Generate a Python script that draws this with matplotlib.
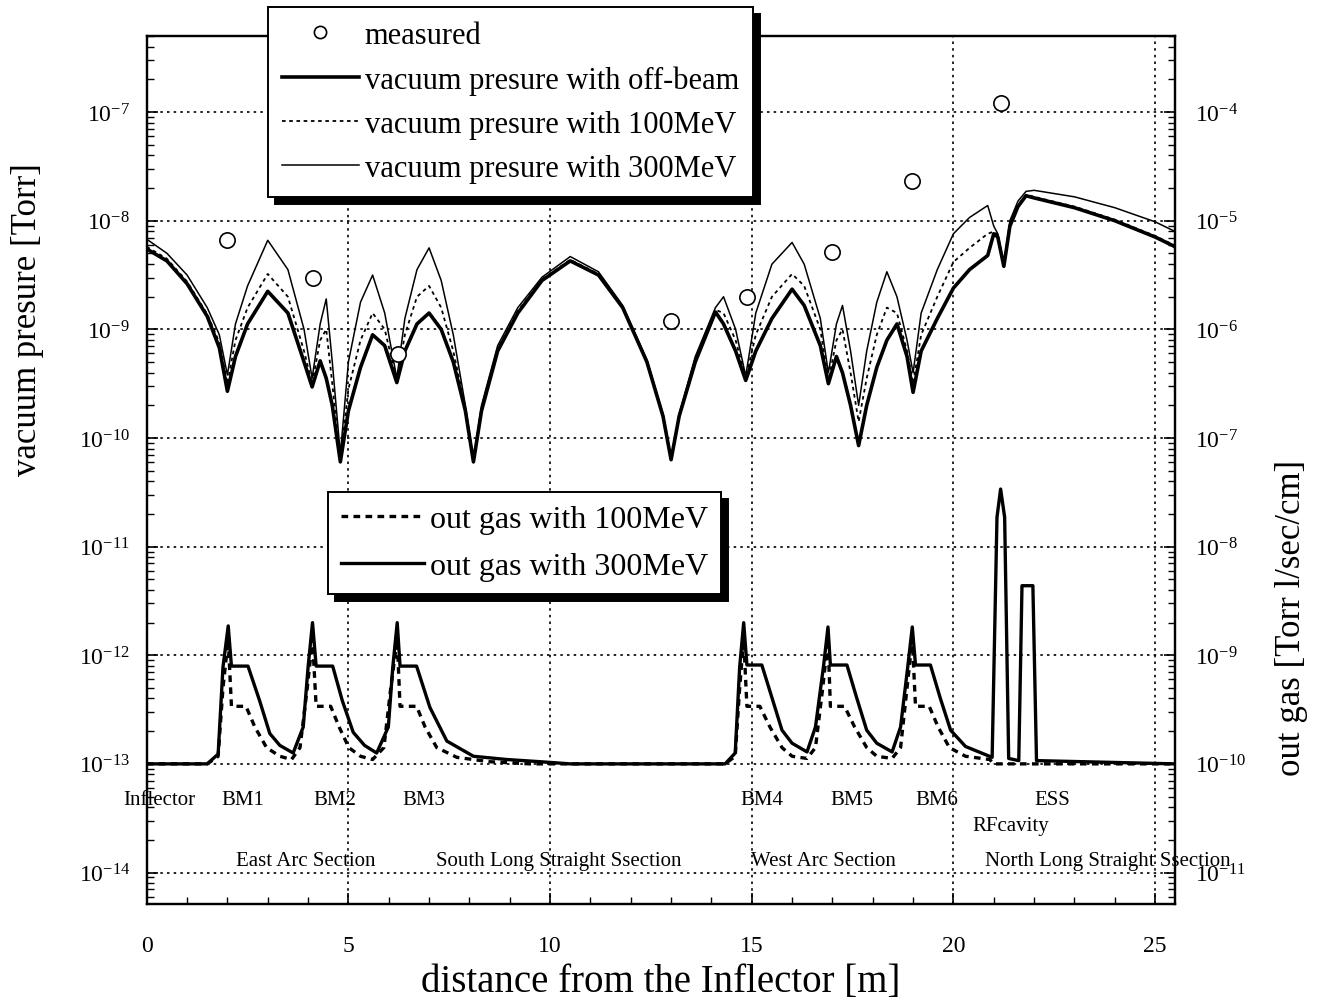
import numpy as np
import matplotlib
matplotlib.use("Agg")
import matplotlib.pyplot as plt
from matplotlib.ticker import LogLocator, MultipleLocator, NullFormatter

plt.rcParams.update({"font.family": ["Liberation Serif", "DejaVu Serif"],
                     "mathtext.fontset": "stix"})

# ---- vacuum pressure (left axis), log10 exponents ----
pos = [0, 0.5, 1.0, 1.5, 1.8, 2.0, 2.2, 2.5, 3.0, 3.5, 3.9, 4.1, 4.3, 4.45, 4.6,
       4.8, 5.0, 5.3, 5.6, 5.9, 6.2, 6.4, 6.7, 7.0, 7.3, 7.6, 7.9, 8.1, 8.3, 8.7,
       9.2, 9.8, 10.5, 11.2, 11.8, 12.4, 12.8, 13.0, 13.2, 13.6, 14.1, 14.3, 14.6,
       14.85, 15.1, 15.5, 16.0, 16.3, 16.7, 16.9, 17.1, 17.25, 17.45, 17.65, 17.85,
       18.1, 18.35, 18.6, 18.85, 19.0, 19.2, 19.6, 20.0, 20.4, 20.85, 21.0, 21.1,
       21.25, 21.4, 21.6, 21.8, 22.0, 23.0, 24.0, 25.0, 25.5]
p_off_exp = [-8.26, -8.37, -8.58, -8.88, -9.17, -9.57, -9.25, -8.95, -8.65, -8.85,
             -9.3, -9.53, -9.29, -9.45, -9.7, -10.22, -9.75, -9.35, -9.05, -9.15,
             -9.49, -9.2, -8.95, -8.85, -9.0, -9.3, -9.75, -10.22, -9.75, -9.2,
             -8.85, -8.55, -8.37, -8.5, -8.8, -9.3, -9.8, -10.2, -9.8, -9.3,
             -8.84, -8.95, -9.2, -9.47, -9.2, -8.9, -8.63, -8.78, -9.15, -9.5,
             -9.25, -9.4, -9.7, -10.07, -9.7, -9.35, -9.1, -8.95, -9.25, -9.58,
             -9.2, -8.9, -8.62, -8.45, -8.32, -8.12, -8.15, -8.42, -8.05, -7.87,
             -7.77, -7.79, -7.88, -8.0, -8.15, -8.24]
p_100_exp = [-8.24, -8.35, -8.56, -8.86, -9.12, -9.5, -9.1, -8.8, -8.49, -8.7,
             -9.2, -9.5, -9.1, -9.0, -9.5, -10.2, -9.55, -9.1, -8.85, -9.0,
             -9.47, -9.05, -8.7, -8.6, -8.8, -9.2, -9.72, -10.22, -9.73, -9.18,
             -8.83, -8.54, -8.36, -8.49, -8.79, -9.29, -9.79, -10.2, -9.79, -9.28,
             -8.82, -8.85, -9.1, -9.45, -9.05, -8.7, -8.49, -8.6, -9.0, -9.47,
             -9.1, -9.0, -9.4, -9.85, -9.45, -9.05, -8.8, -8.85, -9.2, -9.5,
             -9.05, -8.7, -8.38, -8.25, -8.12, -8.1, -8.13, -8.42, -8.04, -7.86,
             -7.76, -7.78, -7.87, -7.99, -8.14, -8.23]
p_300_exp = [-8.17, -8.3, -8.5, -8.8, -9.05, -9.42, -8.95, -8.6, -8.18, -8.45,
             -9.0, -9.45, -8.95, -8.72, -9.3, -10.15, -9.3, -8.75, -8.5, -8.85,
             -9.45, -8.9, -8.45, -8.25, -8.55, -9.05, -9.7, -10.2, -9.7, -9.15,
             -8.8, -8.52, -8.33, -8.47, -8.78, -9.28, -9.78, -10.2, -9.78, -9.25,
             -8.8, -8.7, -9.0, -9.43, -8.85, -8.4, -8.2, -8.4, -8.9, -9.4,
             -8.95, -8.78, -9.2, -9.7, -9.2, -8.75, -8.47, -8.7, -9.1, -9.4,
             -8.85, -8.45, -8.12, -7.97, -7.86, -8.05, -8.12, -8.4, -8.0, -7.82,
             -7.73, -7.72, -7.78, -7.88, -8.01, -8.1]

meas_pos = [2.0, 4.12, 6.23, 13.0, 14.89, 17.0, 18.98, 21.17]
meas_p = [6.6e-9, 3.0e-9, 5.9e-10, 1.2e-9, 2.0e-9, 5.2e-9, 2.3e-8, 1.2e-7]

# ---- out gas (right axis, Torr l/sec/cm), log10 exponents ----
gas300_pos = [0, 1.5, 1.77, 1.89, 2.02, 2.10, 2.51, 2.8, 3.05, 3.3, 3.63, 3.88, 4.0,
              4.11, 4.2, 4.61, 4.85, 5.12, 5.4, 5.70, 5.99, 6.1, 6.21, 6.28, 6.69,
              7.02, 7.44, 8.1, 8.93, 9.75, 10.5, 14.34, 14.59, 14.7, 14.8, 14.88,
              15.25, 15.5, 15.75, 16.0, 16.37, 16.58, 16.78, 16.89, 16.95, 17.36,
              17.6, 17.85, 18.1, 18.48, 18.69, 18.87, 18.98, 19.06, 19.43, 19.67,
              19.93, 20.3, 20.96, 21.08, 21.17, 21.27, 21.37, 21.62, 21.70, 21.97,
              22.06, 25.5]
gas300_exp = [-10.0, -10.0, -9.91, -9.11, -8.73, -9.10, -9.10, -9.42, -9.72, -9.83,
              -9.90, -9.66, -9.11, -8.70, -9.10, -9.10, -9.42, -9.71, -9.83, -9.90,
              -9.66, -9.11, -8.70, -9.10, -9.10, -9.48, -9.79, -9.93, -9.96, -9.98,
              -10.0, -10.0, -9.9, -9.11, -8.70, -9.09, -9.09, -9.39, -9.69, -9.81,
              -9.89, -9.66, -9.10, -8.74, -9.09, -9.09, -9.39, -9.69, -9.81, -9.89,
              -9.66, -9.10, -8.74, -9.09, -9.09, -9.39, -9.69, -9.84, -9.94, -7.73,
              -7.47, -7.73, -9.95, -9.97, -8.36, -8.36, -9.97, -10.0]
gas100_pos = [0, 1.5, 1.77, 1.89, 2.02, 2.10, 2.46, 2.68, 2.97, 3.3, 3.59, 3.8, 3.98,
              4.11, 4.2, 4.56, 4.77, 5.01, 5.3, 5.6, 5.88, 6.05, 6.21, 6.28, 6.69,
              6.9, 7.19, 7.69, 8.5, 9.5, 14.34, 14.59, 14.7, 14.8, 14.88, 15.2,
              15.45, 15.75, 16.0, 16.37, 16.58, 16.76, 16.89, 16.95, 17.3, 17.55,
              17.85, 18.1, 18.48, 18.69, 18.85, 18.98, 19.06, 19.4, 19.62, 19.9,
              20.3, 20.9, 21.0, 25.5]
gas100_exp = [-10.0, -10.0, -9.93, -9.3, -8.85, -9.47, -9.47, -9.66, -9.85, -9.93,
              -9.96, -9.85, -9.3, -8.85, -9.47, -9.47, -9.66, -9.85, -9.93, -9.96,
              -9.85, -9.3, -8.85, -9.47, -9.47, -9.66, -9.85, -9.94, -9.98, -10.0,
              -10.0, -9.93, -9.3, -8.85, -9.47, -9.47, -9.66, -9.85, -9.93, -9.95,
              -9.85, -9.3, -8.85, -9.47, -9.47, -9.66, -9.85, -9.93, -9.95, -9.85,
              -9.3, -8.85, -9.47, -9.47, -9.66, -9.85, -9.93, -9.96, -10.0, -10.0]

# ring components and sections (label text, position along ring)
comp_names = ["Inflector", "BM1", "BM2", "BM3", "BM4", "BM5", "BM6", "ESS"]
comp_pos = [0.32, 2.38, 4.66, 6.87, 15.26, 17.49, 19.58, 22.46]
section_names = ["East Arc Section", "South Long Straight Ssection",
                 "West Arc Section", "North Long Straight Ssection"]
section_pos = [3.95, 10.22, 16.77, 23.82]

fig = plt.figure(figsize=(13.22, 10.04), dpi=100)
ax = fig.add_axes([0.111, 0.0986, 0.778, 0.8645])
ax2 = ax.twinx()

ax.set_yscale("log")
ax.set_xlim(0, 25.5)
ax.set_ylim(10 ** -14.29, 10 ** -6.3)
ax2.set_yscale("log")
ax2.set_ylim(10 ** -11.29, 10 ** -3.3)

ax.grid(True, which="major", color="k", ls=(0, (1.5, 2.5)), lw=1.2)
ax.set_axisbelow(True)

l_off, = ax.plot(pos, 10 ** np.array(p_off_exp), color="k", lw=2.6)
l_100, = ax.plot(pos, 10 ** np.array(p_100_exp), color="k", lw=1.3, ls=(0, (2, 2)))
l_300, = ax.plot(pos, 10 ** np.array(p_300_exp), color="k", lw=1.1)
l_meas, = ax.plot(meas_pos, meas_p, "o", mfc="white", mec="k", ms=11, mew=1.2)

g100, = ax2.plot(gas100_pos, 10 ** np.array(gas100_exp), color="k", lw=2.4,
                 ls=(0, (2, 1.6)))
g300, = ax2.plot(gas300_pos, 10 ** np.array(gas300_exp), color="k", lw=2.4)

# axis cosmetics
for a in (ax, ax2):
    a.tick_params(which="both", direction="in", labelsize=17)
    a.tick_params(which="major", length=8, width=1.2)
    a.tick_params(which="minor", length=5, width=1)
    a.yaxis.set_major_locator(LogLocator(base=10, numticks=20))
    a.yaxis.set_minor_locator(LogLocator(base=10, subs=np.arange(2, 10), numticks=100))
    a.yaxis.set_minor_formatter(NullFormatter())
    for s in a.spines.values():
        s.set_linewidth(1.6)
ax.xaxis.set_major_locator(MultipleLocator(5))
ax.xaxis.set_minor_locator(MultipleLocator(1))
ax.tick_params(axis="x", labelsize=17, pad=22)
ax.tick_params(axis="y", pad=12)
ax2.tick_params(axis="y", pad=14)

ax.set_xlabel("distance from the Inflector [m]", fontsize=28, va="center")
ax.xaxis.set_label_coords(0.5, -0.089)
ax.set_ylabel("vacuum presure [Torr]", fontsize=25, va="center")
ax.yaxis.set_label_coords(-0.116, 0.674)
ax2.set_ylabel("out gas [Torr l/sec/cm]", fontsize=25, va="center")
ax2.yaxis.set_label_coords(1.113, 0.331)

# component and section labels
for name, x in zip(comp_names, comp_pos):
    ax.text(x, 10 ** -13.33, name, ha="center", va="center", fontsize=15)
ax.text(21.41, 10 ** -13.57, "RFcavity", ha="center", va="center", fontsize=15)
for name, x in zip(section_names, section_pos):
    ax.text(x, 10 ** -13.89, name, ha="center", va="center", fontsize=15)

shadow = {"color": "black", "alpha": 1, "ox": 5, "oy": -5}
leg1 = fig.legend([l_meas, l_off, l_100, l_300],
                  ["measured", "vacuum presure with off-beam",
                   "vacuum presure with 100MeV", "vacuum presure with 300MeV"],
                  loc="upper left", bbox_to_anchor=(0.203, 0.992), borderaxespad=0,
                  fontsize=22, frameon=True, fancybox=False, shadow=shadow,
                  framealpha=1, edgecolor="k", handlelength=2.5, handletextpad=0.2,
                  labelspacing=0.5, borderpad=0.45, markerscale=0.8)
leg1.get_frame().set_linewidth(1.4)
leg2 = fig.legend([g100, g300], ["out gas with 100MeV", "out gas with 300MeV"],
                  loc="upper left", bbox_to_anchor=(0.248, 0.509), borderaxespad=0,
                  fontsize=23, frameon=True, fancybox=False, shadow=shadow,
                  framealpha=1, edgecolor="k", handlelength=2.6, handletextpad=0.2,
                  labelspacing=0.55, borderpad=0.4)
leg2.get_frame().set_linewidth(1.4)

fig.savefig("out.png", dpi=100)
